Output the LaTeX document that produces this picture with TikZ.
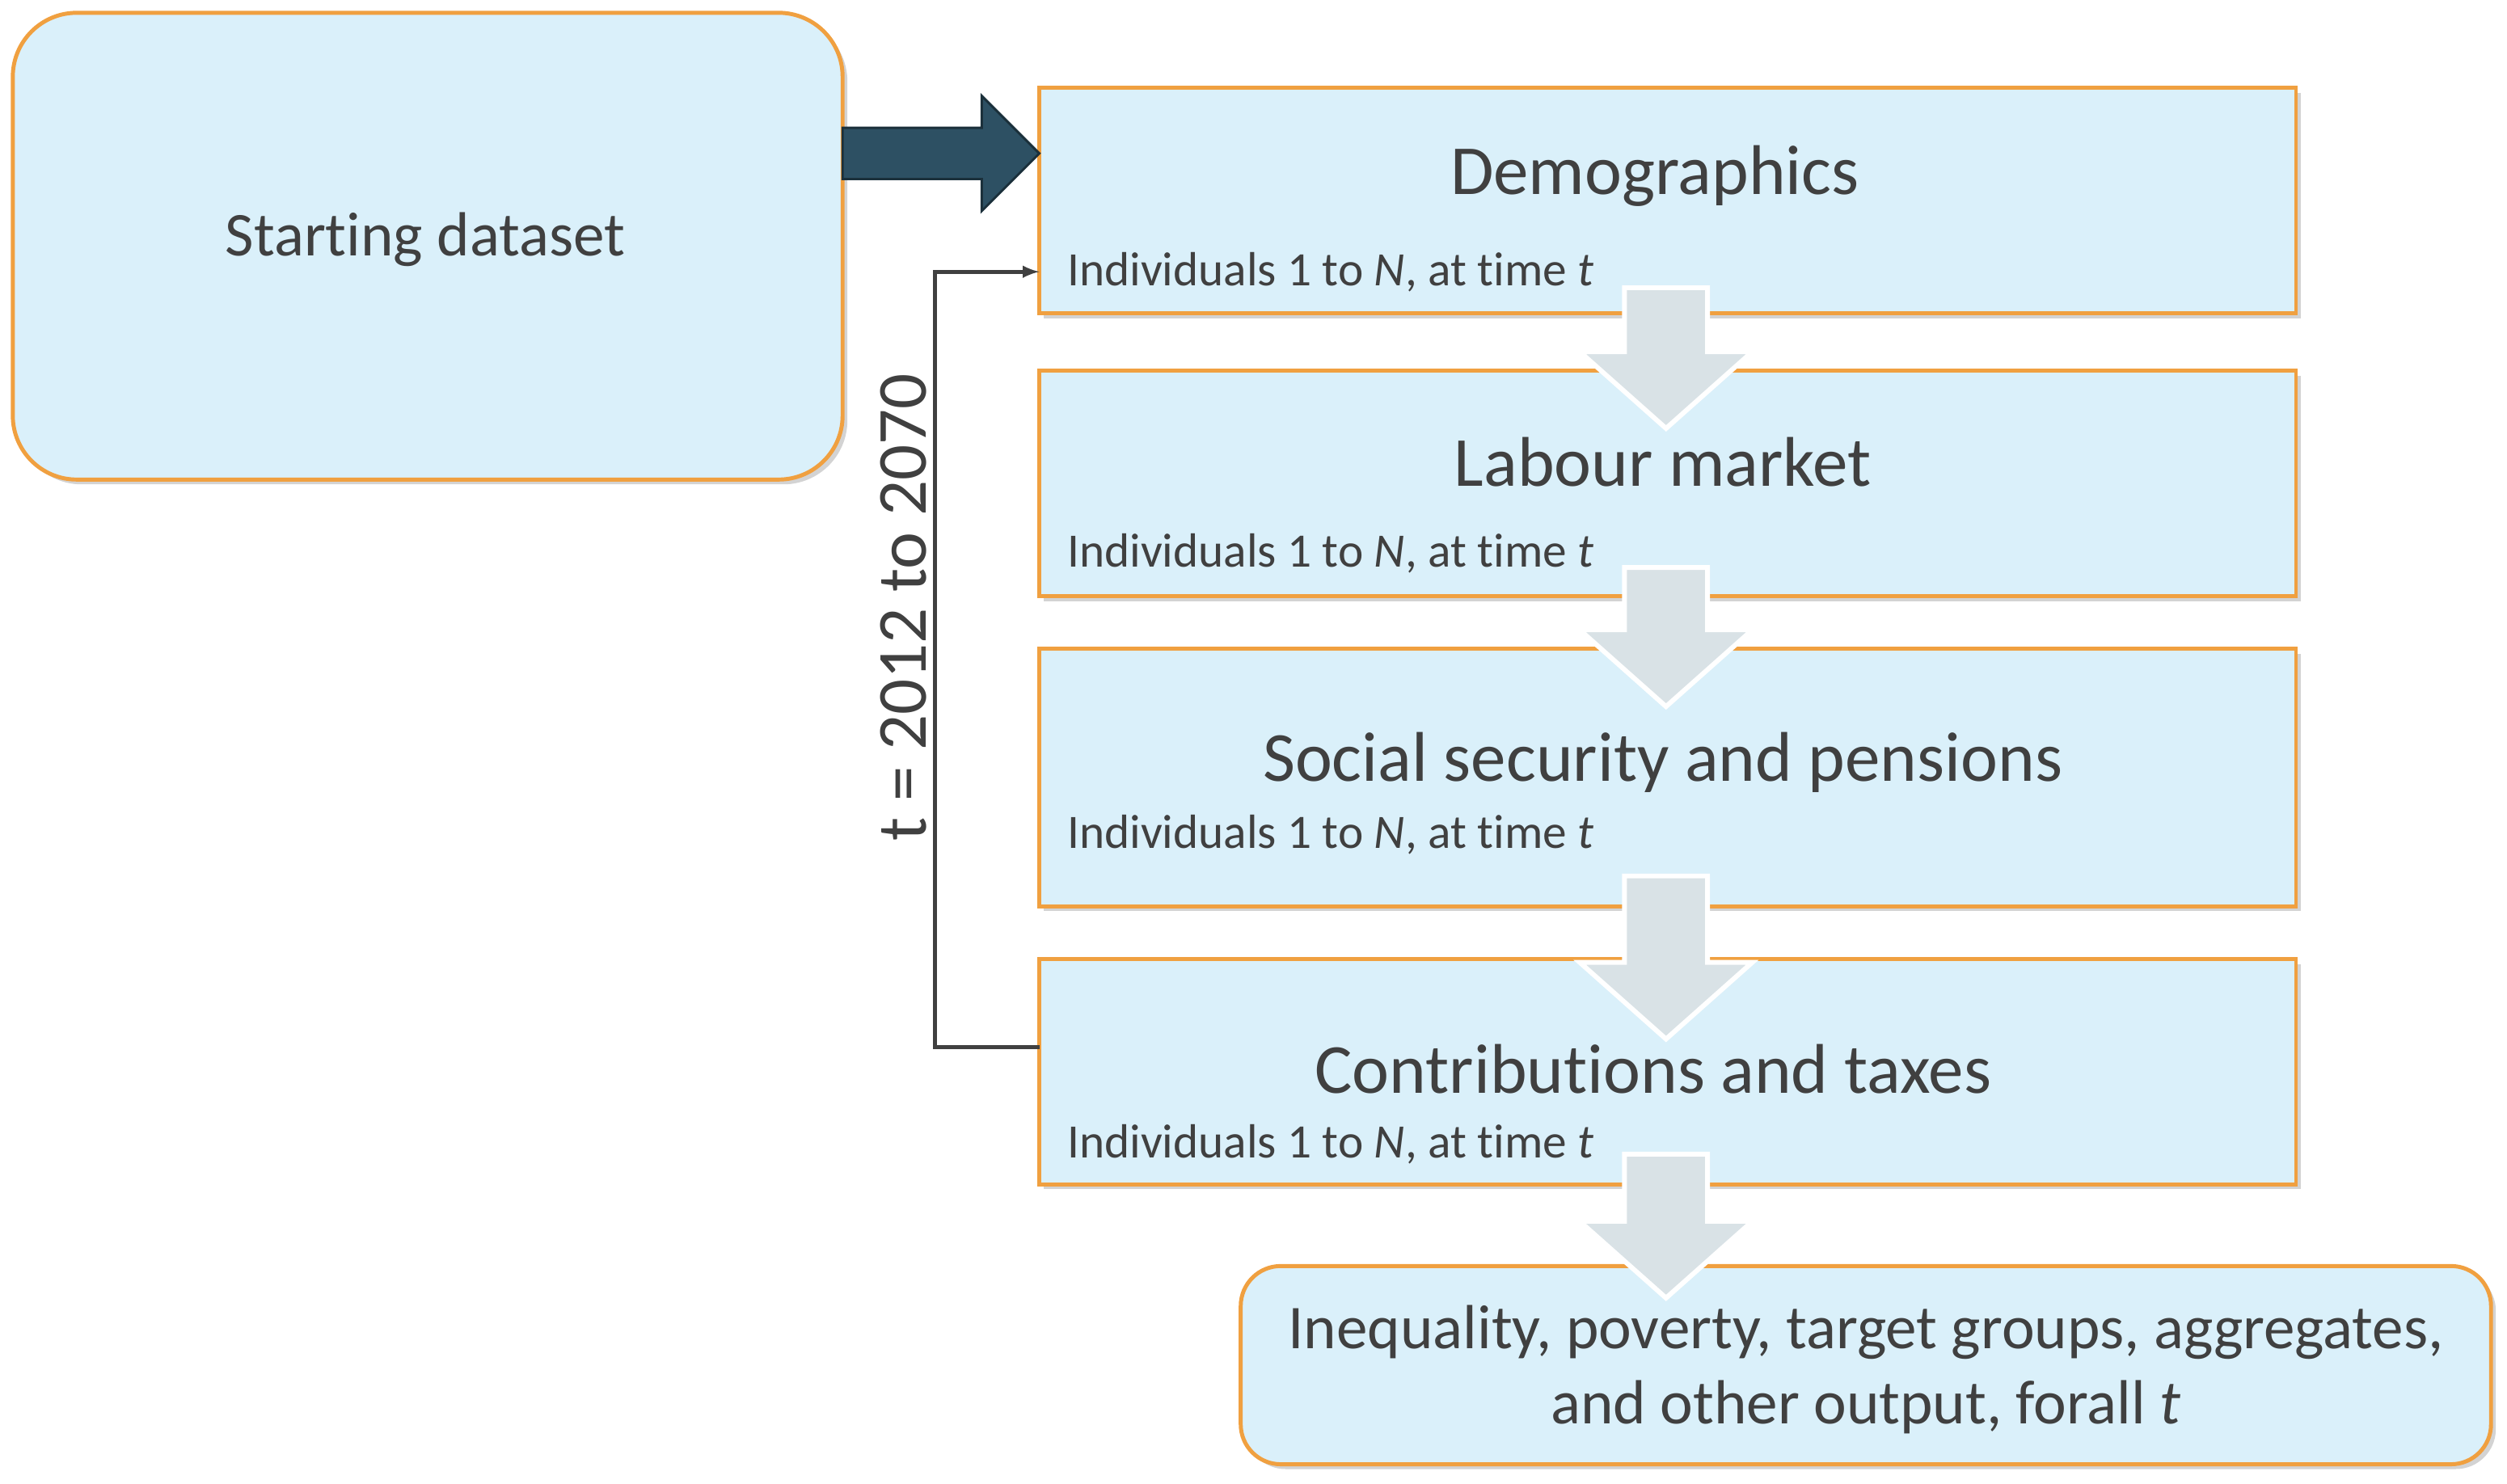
\documentclass[tikz,border=0pt]{standalone}
\usepackage{fontspec}
\setmainfont{Carlito}[Ligatures={NoCommon}]
\usetikzlibrary{shadows}
\definecolor{boxfill}{HTML}{DAF0FA}
\definecolor{boxedge}{HTML}{F0A040}
\definecolor{darkarrow}{HTML}{2D5063}
\definecolor{txt}{HTML}{404040}
\tikzset{
 stagebox/.style={draw=boxedge, line width=2.5pt, fill=boxfill, inner sep=0pt, drop shadow={shadow xshift=3pt,shadow yshift=-3pt,opacity=0.35}},
 roundbox/.style={stagebox, rounded corners=40pt},
 title/.style={text=txt, font=\fontsize{44}{48}\selectfont},
 sub/.style={text=txt, font=\fontsize{30}{34}\selectfont, anchor=west},
 downarrow/.style={fill=boxfill!70!gray!60, draw=white, line width=3pt},
}
\begin{document}
\begin{tikzpicture}[x=1pt,y=-1pt]
\useasboundingbox (0,0) rectangle (1568,928);
% boxes
\path[roundbox] (8,8) rectangle (527,300);
\node[title,font=\fontsize{39}{44}\selectfont] (start) at (266,150) {Starting dataset};
\path[stagebox] (650,55) rectangle (1436,196);
\path[stagebox] (650,232) rectangle (1436,373);
\path[stagebox] (650,406) rectangle (1436,567);
\path[stagebox] (650,600) rectangle (1436,741);
\path[roundbox,rounded corners=25pt] (776,792) rectangle (1558,916);
\coordinate (demoL) at (650,170);
\coordinate (contL) at (650,655);
% down arrows
\foreach \t/\b in {180/268, 355/442, 548/650, 722/812}{
 \draw[downarrow] (1016,\t) -- (1068,\t) -- (1068,\b-48) -- (1096,\b-48) -- (1042,\b) -- (988,\b-48) -- (1016,\b-48) -- cycle;
}
% texts
\node[title] (demo) at (1035,110) {Demographics};
\node[sub] at (664,170) {Individuals 1 to \textit{N}, at time \textit{t}};
\node[title] (lab) at (1040,289) {Labour market};
\node[sub] at (664,346) {Individuals 1 to \textit{N}, at time \textit{t}};
\node[title] (soc) at (1040,477) {Social security and pensions};
\node[sub] at (664,522) {Individuals 1 to \textit{N}, at time \textit{t}};
\node[title] (cont) at (1034,669) {Contributions and taxes};
\node[sub] at (664,716) {Individuals 1 to \textit{N}, at time \textit{t}};
\node[title,font=\fontsize{39}{47}\selectfont,align=center] (out) at (1167,857) {Inequality, poverty, target groups, aggregates,\\ and other output, forall \textit{t}};
% big right arrow
\draw[fill=darkarrow, draw=darkarrow!60!black, line width=1.5pt] (527,80) -- (614,80) -- (614,60) -- (650,96) -- (614,132) -- (614,112) -- (527,112) -- cycle;
% feedback loop
\draw[txt, line width=2.5pt, -latex] (contL) -- (585,655) -- (585,170) -- (demoL);
\node[text=txt, font=\fontsize{44}{48}\selectfont, rotate=90] (loop) at (565,380) {t = 2012 to 2070};
\end{tikzpicture}
\end{document}
